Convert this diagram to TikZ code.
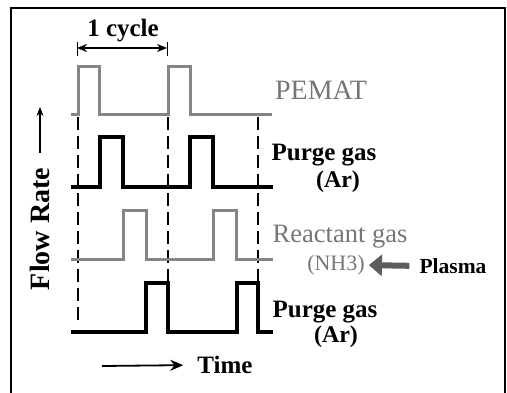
\documentclass[tikz,border=0pt]{standalone}
\usepackage{fontspec}
\setmainfont{Liberation Serif}
\usetikzlibrary{arrows.meta}
\definecolor{wavegray}{HTML}{858585}
\definecolor{textgray}{HTML}{767676}
\begin{document}
\begin{tikzpicture}[x=1pt,y=-1pt,
  blackwave/.style={line width=3.4pt,black,line join=miter},
  graywave/.style={line width=3pt,wavegray,line join=miter},
  guide/.style={line width=2.8pt,black,dash pattern=on 13pt off 6pt},
  lbl/.style={inner sep=0pt,font=\fontsize{25}{28}\selectfont\bfseries},
  glbl/.style={inner sep=0pt,text=textgray},
  thinarrow/.style={line width=1.2pt,-{Stealth[length=9pt,width=7pt]}}]
\useasboundingbox (0,0) rectangle (507,393);
\fill[white] (0,0) rectangle (507,393);
% frame
\draw[line width=1.6pt] (11,396) -- (11,8) -- (505,8) -- (505,396);
% guides
\draw[guide] (78,117) -- (78,323);
\draw[guide] (168,117) -- (168,283);
\draw[guide] (258,117) -- (258,283);
% waveforms
\draw[graywave] (71,115) -- (78,115) -- (78,67) -- (99,67) -- (99,115) -- (168,115) -- (168,67) -- (190,67) -- (190,115) -- (272,115);
\draw[blackwave] (71,187) -- (100,187) -- (100,137) -- (123,137) -- (123,187) -- (190,187) -- (190,137) -- (213,137) -- (213,187) -- (273,187);
\draw[graywave] (71,260) -- (123,260) -- (123,211) -- (146,211) -- (146,260) -- (213,260) -- (213,211) -- (236,211) -- (236,260) -- (273,260);
\draw[blackwave] (71,332) -- (146,332) -- (146,283) -- (168,283) -- (168,332) -- (237,332) -- (237,283) -- (258,283) -- (258,332) -- (273,332);
% cycle marker
\coordinate (cl) at (77,48);
\coordinate (cr) at (167,48);
\draw[line width=1pt] (77,42) -- (77,56) (167,42) -- (167,56);
\draw[line width=1.3pt,{Stealth[length=10pt,width=8pt]}-{Stealth[length=10pt,width=8pt]}] (cl) -- (cr);
\node[lbl] (cycle) at (123,31) {1 cycle};
% labels
\node[glbl,font=\fontsize{28}{30}\selectfont] (pemat) at (321,90) {PEMAT};
\node[lbl] (purge1) at (324,155) {Purge gas};
\node[lbl,font=\fontsize{24}{26}\selectfont\bfseries] (ar1) at (338,182) {(Ar)};
\node[glbl,font=\fontsize{26.5}{28}\selectfont] (react) at (340,237) {Reactant gas};
\node[glbl,font=\fontsize{22}{24}\selectfont] (nh3) at (336,265) {(NH3)};
\node[lbl,font=\fontsize{21.5}{24}\selectfont\bfseries] (plasma) at (453,266) {Plasma};
\node[lbl] (purge2) at (325,312) {Purge gas};
\node[lbl,font=\fontsize{24}{26}\selectfont\bfseries] (ar2) at (336,337) {(Ar)};
% plasma arrow
\draw[wavegray!70!black,line width=6pt,-{Triangle[length=13pt,width=21pt]},shorten <=10pt,shorten >=4pt] (plasma.west) -- (nh3.east);
% axes labels
\node[lbl,font=\fontsize{28}{30}\selectfont\bfseries,rotate=90] (flow) at (40,229) {Flow Rate};
\coordinate (fa) at (40,153);
\coordinate (fb) at (40,107);
\draw[thinarrow] (fa) -- (fb);
\node[lbl] (time) at (225,365) {Time};
\coordinate (ta) at (102,366);
\draw[line width=1.8pt,-{Stealth[length=13pt,width=11pt]}] (ta) -- (time.west) [shorten >=14pt];
\end{tikzpicture}
\end{document}
